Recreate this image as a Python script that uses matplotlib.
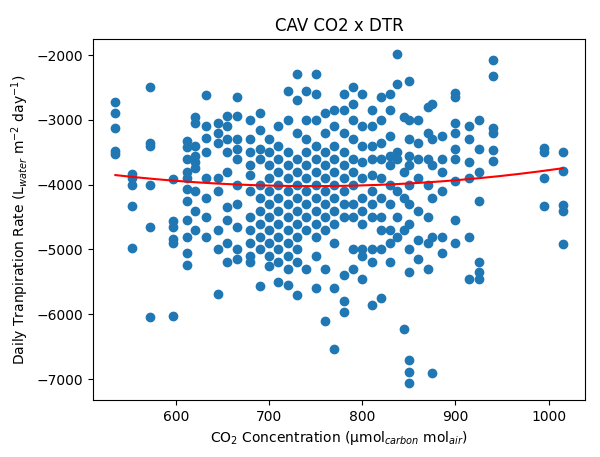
import matplotlib
matplotlib.use("Agg")
import matplotlib.pyplot as plt
import numpy as np

x_cols = [535, 553, 572, 597, 612, 620, 632, 645, 655, 665, 680, 690, 700, 710, 720, 730,
          740, 750, 760, 770, 780, 790, 800, 810, 820, 830, 837, 845, 850, 860, 870, 875,
          885, 900, 915, 925, 940, 995, 1015]
y_cols = [
    [-2720, -2900, -3130, -3480, -3530],
    [-3840, -3900, -4000, -4330, -4980],
    [-2490, -3360, -3400, -4000, -4660, -6040],
    [-3920, -4560, -4650, -4840, -4900, -6030],
    [-3330, -3420, -3600, -3800, -3900, -4060, -4250, -4540, -4800, -5060, -5240],
    [-2950, -3050, -3400, -3560, -3650, -3750, -4100, -4400, -4700],
    [-2620, -3100, -3280, -3500, -3900, -4200, -4500, -4800],
    [-3050, -3200, -3350, -3900, -4100, -4700, -5000, -5680],
    [-2940, -3100, -3300, -3500, -3800, -4350, -4550, -4900, -5200],
    [-2650, -2940, -3300, -3450, -3600, -4000, -4300, -4650, -5000, -5150],
    [-3000, -3300, -3500, -3700, -3850, -4100, -4500, -4700, -4900, -5100, -5200],
    [-2900, -3150, -3450, -3600, -4000, -4200, -4400, -4600, -4800, -5000, -5560],
    [-3300, -3500, -3700, -3900, -4100, -4300, -4500, -4700, -4900, -5100, -5250],
    [-3100, -3400, -3600, -3800, -4000, -4200, -4400, -4600, -4800, -5000, -5200, -5500],
    [-2550, -3000, -3500, -3700, -3900, -4100, -4300, -4500, -4700, -4900, -5100, -5300, -5550],
    [-2300, -2700, -3200, -3600, -3800, -4000, -4200, -4400, -4600, -4800, -5000, -5200, -5700],
    [-2550, -3000, -3300, -3500, -3700, -3900, -4100, -4300, -4500, -4700, -5300],
    [-2300, -2600, -3000, -3400, -3600, -3800, -4000, -4200, -4400, -4600, -4800, -5100, -5600],
    [-2900, -3200, -3500, -3700, -3900, -4100, -4300, -4500, -4700, -5300, -6100],
    [-2850, -3100, -3400, -3600, -3800, -4000, -4200, -4400, -4600, -4900, -5600, -6540],
    [-2600, -2850, -3200, -3500, -3700, -3900, -4100, -4300, -4500, -5400, -5800, -5960],
    [-2500, -2750, -3000, -3300, -3600, -3800, -4000, -4300, -4500, -5000, -5300],
    [-2600, -3100, -3400, -3650, -3900, -4200, -4400, -4600, -5000, -5100, -5450],
    [-2850, -3100, -3400, -3600, -3850, -4100, -4300, -4500, -5000, -5200, -5850],
    [-2650, -3000, -3350, -3600, -3900, -4200, -4500, -4700, -5000, -5750],
    [-2600, -2850, -3250, -3550, -3700, -4000, -4300, -4700, -4900, -5200],
    [-1980, -2450, -3500, -3600, -4100, -4500, -4800],
    [-2950, -3800, -4200, -4700, -6220],
    [-2400, -3000, -3300, -3550, -3700, -4000, -4300, -4600, -5000, -5350, -6710, -6890, -7060],
    [-3000, -3350, -3600, -3900, -4400, -4850, -5150],
    [-2800, -3200, -3600, -4000, -4500, -4900, -5300],
    [-2750, -3300, -3700, -4200, -4800, -6910],
    [-3250, -3600, -3800, -4100, -4800, -5050],
    [-2580, -2650, -3050, -3200, -3450, -3600, -3950, -4550, -4900],
    [-3100, -3300, -3650, -3900, -4800, -5450],
    [-3000, -3450, -3800, -4250, -5200, -5350, -5450],
    [-2080, -2330, -3130, -3200, -3460, -3640],
    [-3430, -3500, -3900, -4330],
    [-3490, -3790, -4310, -4400, -4910],
]
fit_x = [535, 600, 650, 700, 760, 820, 880, 940, 1015]
fit_y = [-3860, -3930, -3980, -4015, -4030, -4010, -3950, -3870, -3750]

xs = np.concatenate([[x] * len(ys) for x, ys in zip(x_cols, y_cols)])
ys = np.concatenate(y_cols)

fig, ax = plt.subplots(figsize=(6, 4.57), dpi=100)
ax.scatter(xs, ys, color="#1f77b4")
xf = np.linspace(min(fit_x), max(fit_x), 200)
coef = np.polyfit(fit_x, fit_y, 2)
ax.plot(xf, np.polyval(coef, xf), color="red")
ax.set_title("CAV CO2 x DTR")
ax.set_xlabel(r"CO$_2$ Concentration (μmol$_{carbon}$ mol$_{air}$)")
ax.set_ylabel(r"Daily Tranpiration Rate (L$_{water}$ m$^{-2}$ day$^{-1}$)")
ax.set_ylim(-7320, -1750)
fig.subplots_adjust(left=0.155, right=0.975, top=0.915, bottom=0.125)
fig.savefig("out.png")
